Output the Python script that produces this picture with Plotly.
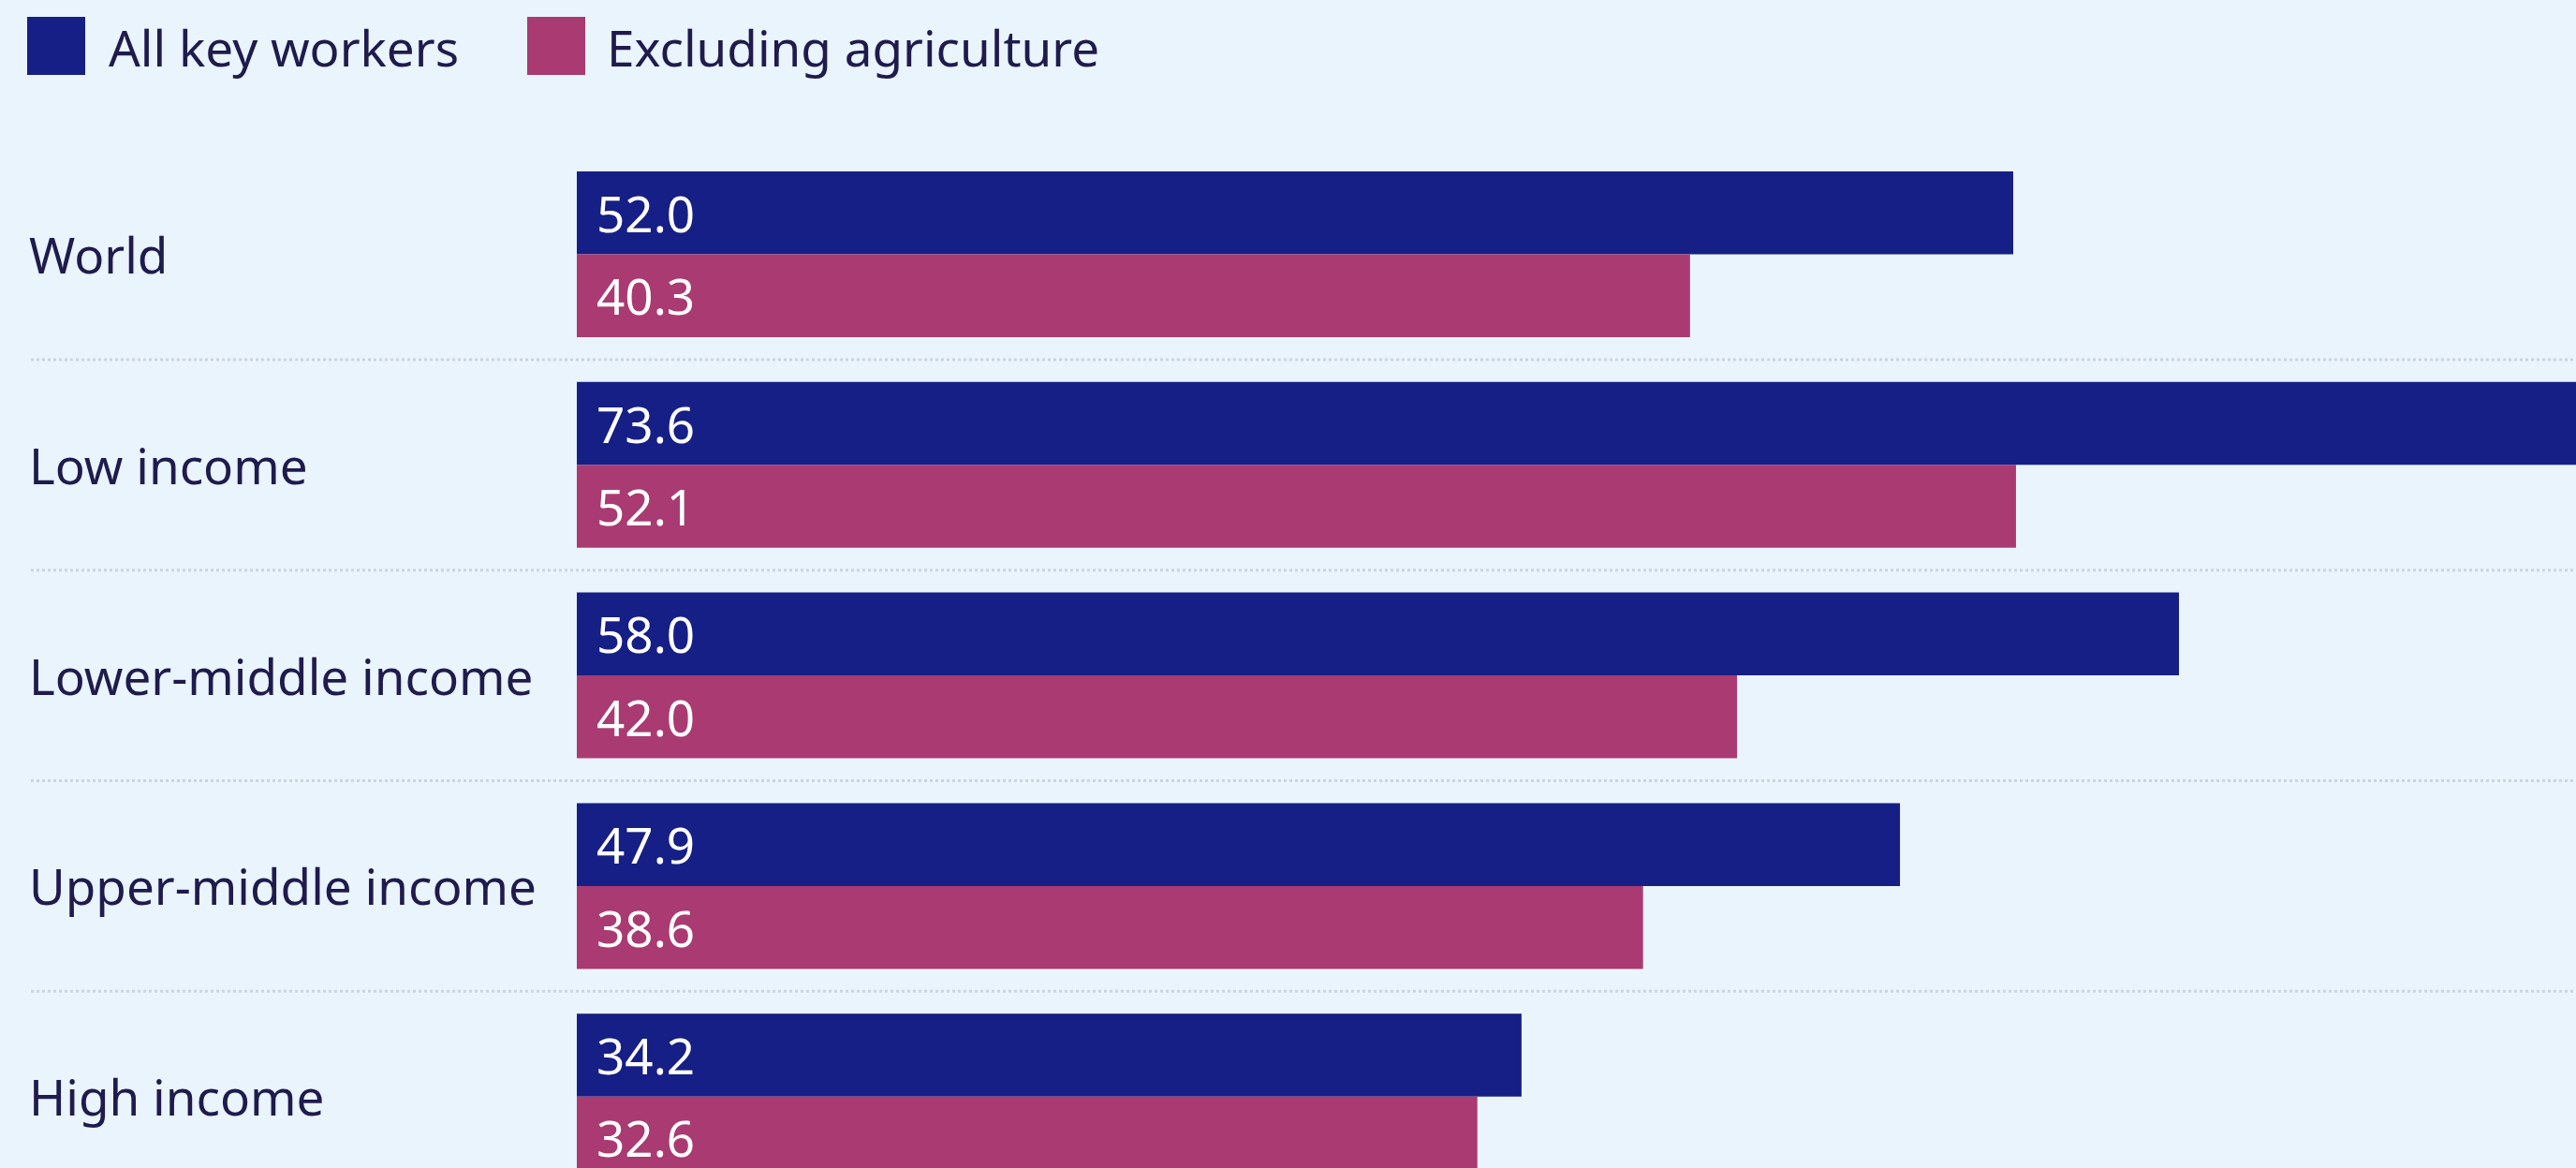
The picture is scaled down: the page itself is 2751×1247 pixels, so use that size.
import plotly.graph_objects as go

# Share of workers, by country income group
categories = ["World", "Low income", "Lower-middle income", "Upper-middle income", "High income"]
series_names = ["All key workers", "Excluding agriculture"]
all_key_workers = [52.0, 73.6, 58.0, 47.9, 34.2]
excluding_agriculture = [40.3, 52.1, 42.0, 38.6, 32.6]

BLUE = "#161f85"
PINK = "#aa3a72"
BG = "#eaf4fd"
TEXT = "#1f1b4d"
RULE = "#cdd4dd"
FONT = "Noto Sans"
FS = 53

W, H = 2751, 1247
ML, MT = 616, 160
PLOT_W = W - ML
PLOT_H = H - MT


def px_x(px):
    """Horizontal pixel -> paper coordinate."""
    return (px - ML) / PLOT_W


def px_y(py):
    """Vertical pixel (from top) -> paper coordinate."""
    return (H - py) / PLOT_H


fig = go.Figure()
for name, vals, col in [(series_names[0], all_key_workers, BLUE),
                        (series_names[1], excluding_agriculture, PINK)]:
    fig.add_trace(go.Bar(
        name=name, x=vals, y=categories, orientation="h",
        marker=dict(color=col, line=dict(width=0)),
        hoverinfo="x+y+name",
    ))

annotations = []
# Value labels at the start of each bar
for vals, shift in [(all_key_workers, 44.25), (excluding_agriculture, -44.25)]:
    for cat, v in zip(categories, vals):
        annotations.append(dict(
            x=0, y=cat, xref="x", yref="y", text=f"{v:.1f}",
            xanchor="left", yanchor="middle", xshift=19, yshift=shift,
            showarrow=False, font=dict(family=FONT, size=FS, color="white"),
        ))

# Category labels, left aligned
for cat in categories:
    annotations.append(dict(
        x=px_x(29), y=cat, xref="paper", yref="y", text=cat,
        xanchor="left", yanchor="middle", showarrow=False,
        font=dict(family=FONT, size=FS, color=TEXT),
    ))

shapes = []
# Dotted separators between groups
for i in range(len(categories) - 1):
    shapes.append(dict(
        type="line", xref="paper", yref="y",
        x0=px_x(33), x1=1, y0=i + 0.5, y1=i + 0.5,
        line=dict(color=RULE, width=3, dash="dot"),
    ))

# Legend: square swatches with text
for name, col, sx, tx in [(series_names[0], BLUE, 29, 114),
                          (series_names[1], PINK, 563, 646)]:
    shapes.append(dict(
        type="rect", xref="paper", yref="paper",
        x0=px_x(sx), x1=px_x(sx + 62), y0=px_y(80), y1=px_y(18),
        fillcolor=col, line=dict(width=0),
    ))
    annotations.append(dict(
        x=px_x(tx), y=px_y(50), xref="paper", yref="paper", text=name,
        xanchor="left", yanchor="middle", showarrow=False,
        font=dict(family=FONT, size=FS, color=TEXT),
    ))

pitch = 224.8
first_center = 271.5
y_top = -(first_center - MT) / pitch
y_bottom = (len(categories) - 1) + (H - (first_center + (len(categories) - 1) * pitch)) / pitch

fig.update_layout(
    width=W, height=H,
    margin=dict(l=ML, r=0, t=MT, b=0, pad=0),
    paper_bgcolor=BG, plot_bgcolor=BG,
    barmode="group", bargap=0.2126, bargroupgap=0,
    showlegend=False,
    xaxis=dict(range=[0, PLOT_W / 29.5], visible=False, fixedrange=True),
    yaxis=dict(type="category", categoryorder="array", categoryarray=categories,
               range=[y_bottom, y_top], showticklabels=False, showgrid=False,
               zeroline=False, showline=False, ticks="", fixedrange=True),
    annotations=annotations,
    shapes=shapes,
    font=dict(family=FONT, size=FS, color=TEXT),
)

fig.write_html("out.html")
